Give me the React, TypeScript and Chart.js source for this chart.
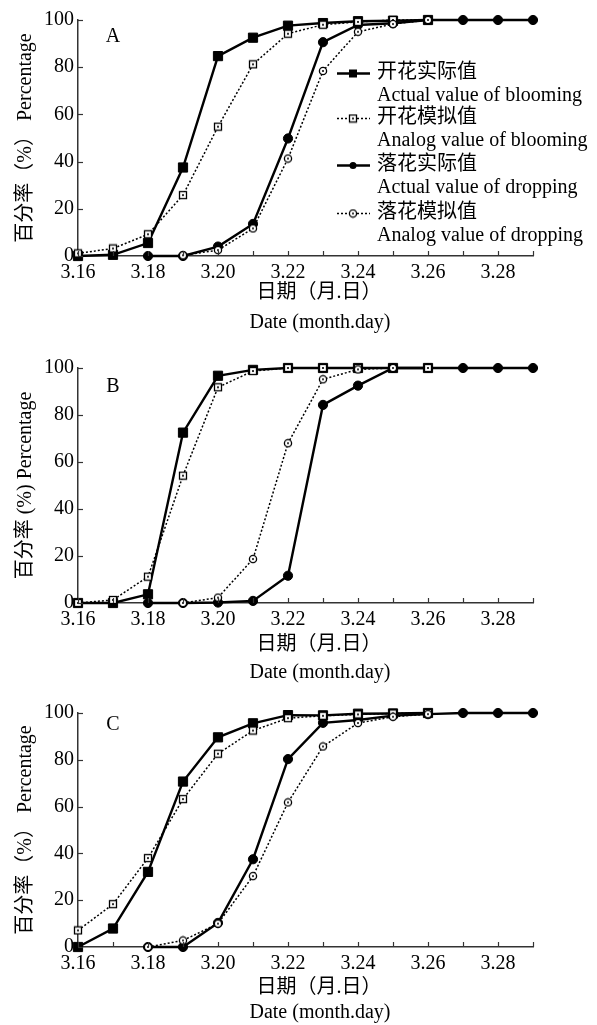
import React, { useEffect, useRef } from 'react';
import { Chart, registerables } from 'chart.js';

Chart.register(...registerables);

// ---------- data ----------
const dates = ['3.16', '3.17', '3.18', '3.19', '3.20', '3.21', '3.22', '3.23', '3.24', '3.25', '3.26', '3.27', '3.28', '3.29'];
const yTicks = [0, 20, 40, 60, 80, 100];

// Panel A
const bloomActualA = [0, 0.5, 5.5, 37.5, 84.7, 92.5, 97.6, 98.7, 99.5, 99.7, 100, null, null, null];
const bloomAnalogA = [1.1, 3.2, 9.2, 25.8, 54.8, 81.2, 94.2, 98, 99.2, 100, 100, null, null, null];
const dropActualA = [null, null, 0, 0, 4, 13.6, 49.8, 90.6, 97.9, 98.6, 100, 100, 100, 100];
const dropAnalogA = [null, null, null, 0.3, 2.5, 11.7, 41.3, 78.4, 95, 98.3, 100, null, null, null];

// Panel B
const bloomActualB = [0, 0, 3.7, 72.5, 96.7, 99.2, 100, 100, 100, 100, 100, null, null, null];
const bloomAnalogB = [0, 1.3, 11.2, 54.2, 91.8, 98.7, 100, 100, 100, 100, 100, null, null, null];
const dropActualB = [null, null, 0, 0, 0.2, 0.9, 11.6, 84.3, 92.5, 100, 100, 100, 100, 100];
const dropAnalogB = [null, null, null, 0, 2.3, 18.7, 68, 95.2, 99.4, 100, null, null, null, null];

// Panel C
const bloomActualC = [0, 7.9, 32.1, 70.7, 89.6, 95.6, 99.1, 99, 99.7, 99.8, 100, null, null, null];
const bloomAnalogC = [7.1, 18.3, 38, 63.2, 82.6, 92.5, 97.8, 98.8, 99.4, 99.8, 100, null, null, null];
const dropActualC = [null, null, 0, 0, 10.3, 37.5, 80.3, 95.8, 97, 98.9, 99.5, 100, 100, 100];
const dropAnalogC = [null, null, 0, 2.8, 10, 30.3, 61.8, 85.7, 95.7, 98.4, 99.5, null, null, null];

const legendZh = ['开花实际值', '开花模拟值', '落花实际值', '落花模拟值'];
const legendEn = ['Actual value of blooming', 'Analog value of blooming', 'Actual value of dropping', 'Analog value of dropping'];
const xTitleZh = '日期（月.日）';
const xTitleEn = 'Date (month.day)';
const yTitleFull = '百分率（%） Percentage';
const yTitleHalf = '百分率 (%) Percentage';

// ---------- layout / style ----------
const W = 597;
const FONT = '"Liberation Serif", "Times New Roman", "Noto Sans CJK SC", serif';
const FS = 20;
const AXIS_LEFT = 78;
const AXIS_RIGHT = 533;

type Panel = {
  id: string;
  top: number;
  height: number;
  areaTop: number;
  areaBottom: number;
  letterY: number;
  xTitleY: [number, number];
  yTitle: string;
  legend: boolean;
  series: (number | null)[][];
};

const panels: Panel[] = [
  { id: 'A', top: 0, height: 340, areaTop: 20, areaBottom: 256, letterY: 37, xTitleY: [293, 323], yTitle: yTitleFull, legend: true, series: [bloomActualA, bloomAnalogA, dropActualA, dropAnalogA] },
  { id: 'B', top: 340, height: 345, areaTop: 28, areaBottom: 263, letterY: 47, xTitleY: [305, 333], yTitle: yTitleHalf, legend: false, series: [bloomActualB, bloomAnalogB, dropActualB, dropAnalogB] },
  { id: 'C', top: 680, height: 345, areaTop: 33, areaBottom: 267, letterY: 45, xTitleY: [308, 333], yTitle: yTitleFull, legend: false, series: [bloomActualC, bloomAnalogC, dropActualC, dropAnalogC] },
];

function makeOpenSquare(): HTMLCanvasElement {
  const c = document.createElement('canvas');
  c.width = 10; c.height = 10;
  const g = c.getContext('2d')!;
  g.fillStyle = '#fff';
  g.fillRect(1, 1, 8, 8);
  g.strokeStyle = '#000';
  g.lineWidth = 1.3;
  g.strokeRect(1.5, 1.5, 7, 7);
  g.fillStyle = '#000';
  g.beginPath(); g.arc(5, 5, 1.1, 0, Math.PI * 2); g.fill();
  return c;
}

function makeOpenCircle(): HTMLCanvasElement {
  const c = document.createElement('canvas');
  c.width = 10; c.height = 10;
  const g = c.getContext('2d')!;
  g.fillStyle = '#fff';
  g.beginPath(); g.arc(5, 5, 3.6, 0, Math.PI * 2); g.fill();
  g.strokeStyle = '#000';
  g.lineWidth = 1.3;
  g.beginPath(); g.arc(5, 5, 3.6, 0, Math.PI * 2); g.stroke();
  g.fillStyle = '#000';
  g.beginPath(); g.arc(5, 5, 1.0, 0, Math.PI * 2); g.fill();
  return c;
}

function ChartPanel({ panel }: { panel: Panel }) {
  const ref = useRef<HTMLCanvasElement>(null);
  useEffect(() => {
    const canvas = ref.current!;
    const openSq = makeOpenSquare();
    const openCi = makeOpenCircle();
    const styles = [
      { borderWidth: 2.4, borderDash: [] as number[], pointStyle: 'rect' as any, pointRadius: 6.5, bg: '#000' },
      { borderWidth: 1.5, borderDash: [2, 2], pointStyle: openSq as any, pointRadius: 5, bg: '#fff' },
      { borderWidth: 2.4, borderDash: [] as number[], pointStyle: 'circle' as any, pointRadius: 4.6, bg: '#000' },
      { borderWidth: 1.5, borderDash: [2, 2], pointStyle: openCi as any, pointRadius: 5, bg: '#fff' },
    ];
    const order = [3, 1, 2, 0];
    const datasets = order.map((i) => ({
      label: legendZh[i],
      data: panel.series[i],
      borderColor: '#000',
      backgroundColor: styles[i].bg,
      borderWidth: styles[i].borderWidth,
      borderDash: styles[i].borderDash,
      pointStyle: styles[i].pointStyle,
      pointRadius: styles[i].pointRadius,
      pointBorderColor: '#000',
      pointBackgroundColor: styles[i].bg,
      pointBorderWidth: 1,
      tension: 0,
      clip: false as any,
    }));

    const decor = {
      id: 'decor' + panel.id,
      afterDraw(chart: any) {
        const { ctx, chartArea, scales } = chart;
        ctx.save();
        // inward tick marks
        ctx.strokeStyle = '#333';
        ctx.lineWidth = 1.2;
        for (let i = 0; i < dates.length; i++) {
          const x = Math.round(scales.x.getPixelForValue(i)) + 0.5;
          ctx.beginPath();
          ctx.moveTo(x, chartArea.bottom);
          ctx.lineTo(x, chartArea.bottom - 5);
          ctx.stroke();
        }
        for (const v of yTicks) {
          const y = Math.round(scales.y.getPixelForValue(v)) + 0.5;
          ctx.beginPath();
          ctx.moveTo(chartArea.left, y);
          ctx.lineTo(chartArea.left + 5, y);
          ctx.stroke();
        }
        ctx.fillStyle = '#000';
        // panel letter
        ctx.font = `${FS}px ${FONT}`;
        ctx.textAlign = 'center';
        ctx.textBaseline = 'middle';
        ctx.fillText(panel.id, 113, panel.letterY);
        // x titles
        ctx.fillText(xTitleZh, 319, panel.xTitleY[0]);
        ctx.fillText(xTitleEn, 320, panel.xTitleY[1]);
        // y title
        ctx.save();
        ctx.translate(26, (chartArea.top + chartArea.bottom) / 2);
        ctx.rotate(-Math.PI / 2);
        ctx.fillText(panel.yTitle, 0, 0);
        ctx.restore();
        // legend
        if (panel.legend) {
          const rows = [73, 118, 165, 213];
          ctx.textAlign = 'left';
          for (let i = 0; i < 4; i++) {
            const y = rows[i];
            ctx.strokeStyle = '#000';
            ctx.lineWidth = i % 2 === 0 ? 2.6 : 1.5;
            ctx.setLineDash(i % 2 === 0 ? [] : [2, 2]);
            ctx.beginPath();
            ctx.moveTo(337, y + 0.5);
            ctx.lineTo(370, y + 0.5);
            ctx.stroke();
            ctx.setLineDash([]);
            const cx = 353;
            ctx.fillStyle = '#000';
            if (i === 0) {
              ctx.fillRect(cx - 4, y - 3.5, 8, 8);
            } else if (i === 2) {
              ctx.beginPath(); ctx.arc(cx, y + 0.5, 3.5, 0, Math.PI * 2); ctx.fill();
            } else {
              const img = i === 1 ? openSq : openCi;
              ctx.drawImage(img, cx - 5, y - 4.5);
            }
            ctx.font = `${FS}px ${FONT}`;
            ctx.fillText(legendZh[i], 377, y);
            ctx.fillText(legendEn[i], 377, y + 22.5);
          }
        }
        ctx.restore();
      },
    };

    const chart = new Chart(canvas, {
      type: 'line',
      data: { labels: dates, datasets },
      options: {
        responsive: false,
        animation: false,
        layout: { padding: { top: panel.areaTop, left: 0, right: W - AXIS_RIGHT, bottom: 0 } },
        plugins: { legend: { display: false }, tooltip: { enabled: false }, title: { display: false } },
        scales: {
          x: {
            type: 'category',
            offset: false,
            grid: { display: true, drawOnChartArea: false, drawTicks: false },
            border: { display: true, color: '#333', width: 1.5 },
            ticks: {
              autoSkip: false,
              maxRotation: 0,
              padding: 5,
              color: '#000',
              font: { family: FONT, size: FS },
              callback: (_v: any, idx: number) => (idx % 2 === 0 ? dates[idx] : ''),
            },
            afterFit: (s: any) => { s.height = panel.height - panel.areaBottom; },
          },
          y: {
            min: 0,
            max: 100,
            grid: { display: true, drawOnChartArea: false, drawTicks: false },
            border: { display: true, color: '#333', width: 1.5 },
            ticks: {
              stepSize: 20,
              padding: 4,
              color: '#000',
              font: { family: FONT, size: FS },
            },
            afterFit: (s: any) => { s.width = AXIS_LEFT; },
          },
        },
      },
      plugins: [decor],
    });
    return () => chart.destroy();
  }, [panel]);
  return (
    <canvas
      ref={ref}
      width={W}
      height={panel.height}
      style={{ position: 'absolute', left: 0, top: panel.top, width: W, height: panel.height, display: 'block' }}
    />
  );
}

export default function App() {
  return (
    <div style={{ position: 'absolute', left: 0, top: 0, width: W, height: 1025, background: '#fff' }}>
      {panels.map((p) => (
        <ChartPanel key={p.id} panel={p} />
      ))}
    </div>
  );
}
